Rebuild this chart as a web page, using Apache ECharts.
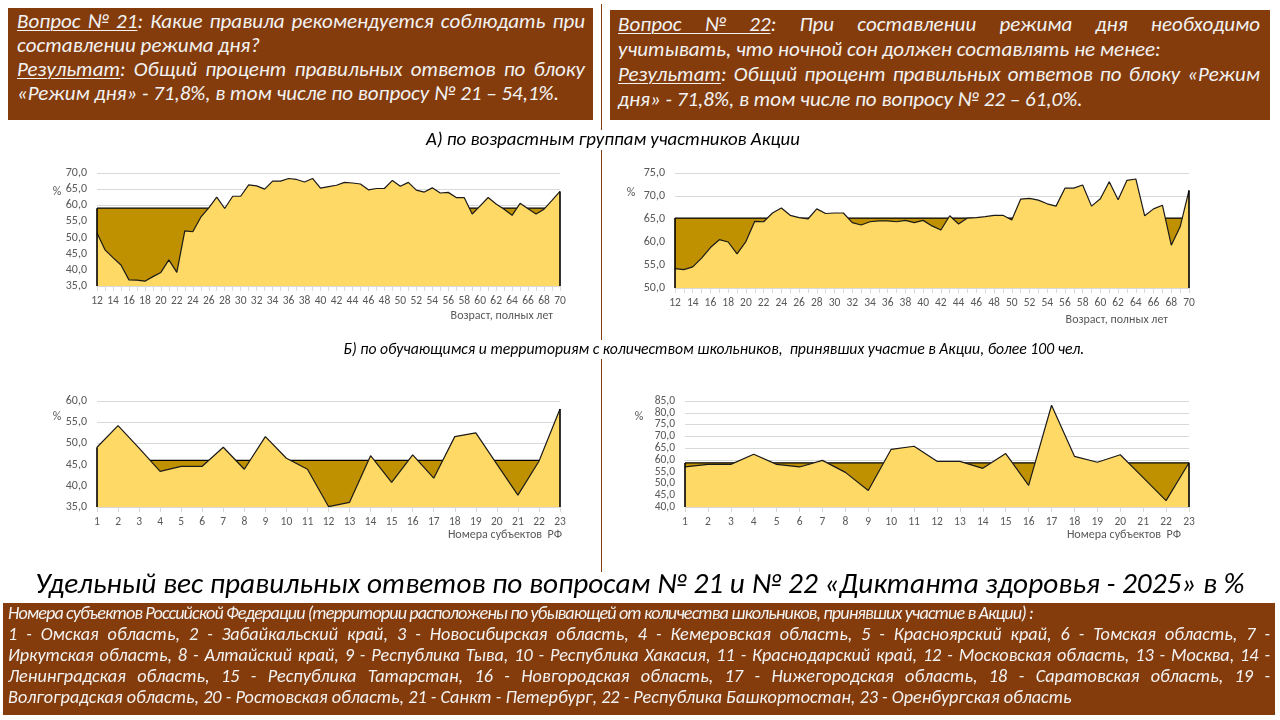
<!DOCTYPE html>
<html>
<head>
<meta charset="utf-8">
<script src="https://cdn.jsdelivr.net/npm/echarts@6/dist/echarts.min.js"></script>
<style>
html,body{margin:0;padding:0;background:#fff;}
#wrap{position:relative;width:1280px;height:720px;overflow:hidden;font-family:Carlito,Roboto,sans-serif;}
#chart{position:absolute;left:0;top:0;width:1280px;height:720px;}
.box{position:absolute;background:#843C0C;color:#F2F2F2;font-style:italic;box-sizing:border-box;}
.ln{white-space:nowrap;text-align:left;}
.cap{position:absolute;white-space:nowrap;font-style:italic;color:#000;}
.vline{position:absolute;left:601px;width:1px;background:#843C0C;}
u{text-decoration-thickness:1px;text-underline-offset:2px;}
</style>
</head>
<body>
<div id="wrap">
  <div id="chart"></div>
  <div class="vline" style="top:4px;height:126px;"></div>
  <div class="vline" style="top:150px;height:190px;"></div>
  <div class="vline" style="top:359px;height:213px;"></div>

  <div class="box" id="b1" style="left:8px;top:8px;width:585px;height:112px;padding:1px 8px 0 9px;font-size:21px;line-height:24px;">
    <div class="ln j"><span><u>Вопрос № 21</u>: Какие правила рекомендуется соблюдать при</span></div>
    <div class="ln"><span>составлении режима дня?</span></div>
    <div class="ln j"><span><u>Результат</u>: Общий процент правильных ответов по блоку</span></div>
    <div class="ln"><span>«Режим дня» - 71,8%, в том числе по вопросу № 21 – 54,1%.</span></div>
  </div>
  <div class="box" id="b2" style="left:610px;top:10px;width:660px;height:110px;padding:2px 10px 0 8px;font-size:21px;line-height:25px;">
    <div class="ln j"><span><u>Вопрос № 22</u>: При составлении режима дня необходимо</span></div>
    <div class="ln"><span>учитывать, что ночной сон должен составлять не менее:</span></div>
    <div class="ln j"><span><u>Результат</u>: Общий процент правильных ответов по блоку «Режим</span></div>
    <div class="ln"><span>дня» - 71,8%, в том числе по вопросу № 22 – 61,0%.</span></div>
  </div>

  <div class="cap" id="capA">А) по возрастным группам участников Акции</div>
  <div class="cap" id="capB">Б) по обучающимся и территориям с количеством школьников,&nbsp; принявших участие в Акции, более 100 чел.</div>
  <div class="cap" id="title">Удельный вес правильных ответов по вопросам № 21 и № 22 «Диктанта здоровья - 2025» в %</div>

  <div class="box" id="b3" style="left:3px;top:603px;width:1272px;height:112px;padding:0 5px 0 5px;font-size:18.2px;line-height:21px;">
    <div class="ln" id="b3l1"><span>Номера субъектов Российской Федерации (территории расположены по убывающей от количества школьников, принявших участие в Акции) :</span></div>
    <div class="ln j"><span>1 - Омская область, 2 - Забайкальский край, 3 - Новосибирская область, 4 - Кемеровская область, 5 - Красноярский край, 6 - Томская область, 7 -</span></div>
    <div class="ln j"><span>Иркутская область, 8 - Алтайский край, 9 - Республика Тыва, 10 - Республика Хакасия, 11 - Краснодарский край, 12 - Московская область, 13 - Москва, 14 -</span></div>
    <div class="ln j"><span>Ленинградская область, 15 - Республика Татарстан, 16 - Новгородская область, 17 - Нижегородская область, 18 - Саратовская область, 19 -</span></div>
    <div class="ln"><span>Волгоградская область, 20 - Ростовская область, 21 - Санкт - Петербург, 22 - Республика Башкортостан, 23 - Оренбургская область</span></div>
  </div>
</div>
<script>
// ---------- DATA ----------
const ages = [12,13,14,15,16,17,18,19,20,21,22,23,24,25,26,27,28,29,30,31,32,33,34,35,36,37,38,39,40,
  41,42,43,44,45,46,47,48,49,50,51,52,53,54,55,56,57,58,59,60,61,62,63,64,65,66,67,68,69,70];
const subjects = [1,2,3,4,5,6,7,8,9,10,11,12,13,14,15,16,17,18,19,20,21,22,23];

const q21ByAge = [51.4,46.2,43.8,41.5,36.9,36.8,36.5,37.9,39.2,43.1,39.2,52.1,51.8,56.3,59.2,62.5,59.0,62.8,62.8,
  66.3,66.0,65.0,67.5,67.5,68.3,68.0,67.2,68.3,65.3,65.8,66.2,67.1,66.9,66.6,64.8,65.2,65.2,67.7,65.9,67.1,
  64.7,64.1,65.4,63.8,64.0,62.4,62.4,57.3,59.8,62.4,60.4,58.8,56.9,60.6,58.9,57.3,58.8,61.5,64.3];
const q21AgeLevel = 59.1;

const q22ByAge = [54.2,54.0,54.6,56.5,58.8,60.5,60.0,57.4,60.1,64.5,64.4,66.3,67.4,65.8,65.3,65.0,67.2,66.2,66.3,
  66.3,64.2,63.7,64.4,64.6,64.6,64.4,64.7,64.2,64.7,63.5,62.6,65.7,63.9,65.2,65.3,65.5,65.8,65.8,64.8,69.3,
  69.5,69.1,68.3,67.8,71.7,71.7,72.4,67.8,69.4,73.1,69.2,73.4,73.7,65.7,67.2,68.0,59.3,63.3,71.2];
const q22AgeLevel = 65.2;

const q21BySubject = [49.1,54.2,48.9,43.4,44.6,44.6,49.1,43.9,51.6,46.5,43.9,35.1,36.1,47.1,40.8,47.3,41.8,51.6,52.5,45.1,37.8,45.8,58.1];
const q21SubjectLevel = 46.0;

const q22BySubject = [57.0,58.1,58.1,62.4,58.1,57.0,59.8,54.7,47.0,64.5,65.8,59.4,59.4,56.4,62.7,49.2,83.2,61.5,59.0,62.2,52.5,42.7,58.8];
const q22SubjectLevel = 58.7;

const ageAxisName = 'Возраст, полных лет';
const subjectAxisName = 'Номера субъектов  РФ';

// ---------- TEXT LAYOUT ----------
function fit(id, targetW, centerX, centerY, baseSize) {
  const el = document.getElementById(id);
  el.style.fontSize = baseSize + 'px';
  el.style.lineHeight = '1.2';
  const w = el.offsetWidth;
  const fs = baseSize * targetW / w;
  el.style.fontSize = fs + 'px';
  const h = el.offsetHeight;
  el.style.left = (centerX - el.offsetWidth / 2) + 'px';
  el.style.top = (centerY - h / 2) + 'px';
}
fit('capA', 374, 613, 139, 16);
fit('capB', 742, 714, 349, 16);
fit('title', 1210, 640, 583, 26);

document.querySelectorAll('.j').forEach(d => {
  const s = d.firstElementChild;
  const nat = s.getBoundingClientRect().width;
  const avail = d.clientWidth;
  const n = (s.textContent.match(/ /g) || []).length;
  if (n > 0) d.style.wordSpacing = ((avail - nat) / n) + 'px';
});
(function () {
  const d = document.getElementById('b3l1');
  const s = d.firstElementChild;
  const nat = s.getBoundingClientRect().width;
  const chars = s.textContent.length;
  d.style.letterSpacing = ((1025 - nat) / chars) + 'px';
})();

// ---------- CHART ----------
const FONT = 'Carlito, Roboto, sans-serif';
const fmt = v => v.toFixed(1).replace('.', ',');

const panels = [
  {cats: ages, vals: q21ByAge, level: q21AgeLevel, min: 35, max: 70, labelInterval: 1, yFont: 12, dense: false,
   grid: {left: 97, top: 173, width: 463, height: 113}},
  {cats: ages, vals: q22ByAge, level: q22AgeLevel, min: 50, max: 75, labelInterval: 1, yFont: 12, dense: false,
   grid: {left: 675, top: 173, width: 514, height: 115}},
  {cats: subjects, vals: q21BySubject, level: q21SubjectLevel, min: 35, max: 60, labelInterval: 0, yFont: 12, dense: false,
   grid: {left: 97, top: 401, width: 463, height: 106}},
  {cats: subjects, vals: q22BySubject, level: q22SubjectLevel, min: 40, max: 85, labelInterval: 0, yFont: 11.5, dense: true,
   grid: {left: 685, top: 401, width: 504, height: 106}}
];

const grids = [], xAxes = [], yAxes = [], series = [];
panels.forEach((p, i) => {
  grids.push(p.grid);
  const catStr = p.cats.map(String);
  xAxes.push({
    type: 'category', gridIndex: i, data: catStr, boundaryGap: false,
    axisLine: {show: true, lineStyle: {color: '#D9D9D9'}},
    axisTick: {show: true, interval: 0, length: 5, lineStyle: {color: '#D9D9D9'}},
    axisLabel: {interval: p.labelInterval, color: '#595959', fontSize: 11.5, fontFamily: FONT, margin: 9,
                hideOverlap: false}
  });
  const yBase = {
    type: 'value', gridIndex: i, min: p.min, max: p.max, interval: 5, position: 'left',
    axisLine: {show: false}, axisTick: {show: false}
  };
  const lblBase = {color: '#595959', fontSize: p.yFont, fontFamily: FONT, margin: 10,
                   showMinLabel: true, showMaxLabel: true, hideOverlap: false};
  const yIdx = yAxes.length;
  if (!p.dense) {
    yAxes.push(Object.assign({}, yBase, {
      splitLine: {show: true, lineStyle: {color: '#D9D9D9', width: 1}},
      axisLabel: Object.assign({}, lblBase, {formatter: fmt})
    }));
  } else {
    // dense scale: labels are split between two overlaid axes of the same scale so none are dropped
    const step = k => Math.round((p.max - k) / 5) % 2;
    yAxes.push(Object.assign({}, yBase, {
      splitLine: {show: true, lineStyle: {color: '#D9D9D9', width: 1}},
      axisLabel: Object.assign({}, lblBase, {formatter: v => step(v) === 0 ? fmt(v) : ''})
    }));
    yAxes.push(Object.assign({}, yBase, {
      splitLine: {show: false},
      axisLabel: Object.assign({}, lblBase, {formatter: v => step(v) === 1 ? fmt(v) : ''})
    }));
  }
  const lvl = p.cats.map(() => p.level);
  series.push({
    type: 'line', xAxisIndex: i, yAxisIndex: yIdx, data: lvl, symbol: 'none', z: 2, silent: true,
    lineStyle: {color: '#000', width: 1.2},
    areaStyle: {color: '#BF9000', opacity: 1, origin: 'start'}
  });
  const first = catStr[0], last = catStr[catStr.length - 1];
  const topL = Math.max(p.vals[0], p.level);
  const topR = Math.max(p.vals[p.vals.length - 1], p.level);
  series.push({
    type: 'line', xAxisIndex: i, yAxisIndex: yIdx, data: p.vals, symbol: 'none', z: 3, silent: true,
    lineStyle: {color: '#1a1a1a', width: 1.2},
    areaStyle: {color: '#FFD966', opacity: 1, origin: 'start'},
    markLine: {
      silent: true, symbol: ['none', 'none'], label: {show: false},
      lineStyle: {color: '#000', width: 1.6, type: 'solid'},
      data: [
        [{coord: [first, p.min]}, {coord: [first, topL]}],
        [{coord: [last, p.min]}, {coord: [last, topR]}]
      ]
    }
  });
});

const txt = (x, y, text, align) => ({
  type: 'text', x: x, y: y,
  style: {text: text, fill: '#595959', font: '12px ' + FONT, textAlign: align, textVerticalAlign: 'middle'}
});

const chart = echarts.init(document.getElementById('chart'), null, {renderer: 'canvas'});
chart.setOption({
  animation: false,
  grid: grids, xAxis: xAxes, yAxis: yAxes, series: series,
  graphic: [
    txt(57, 192, '%', 'center'),
    txt(631, 193, '%', 'center'),
    txt(57, 417, '%', 'center'),
    txt(639, 417, '%', 'center'),
    txt(553, 316, ageAxisName, 'right'),
    txt(1168, 320, ageAxisName, 'right'),
    txt(562, 535, subjectAxisName, 'right'),
    txt(1181, 535, subjectAxisName, 'right')
  ]
});
</script>
</body>
</html>
